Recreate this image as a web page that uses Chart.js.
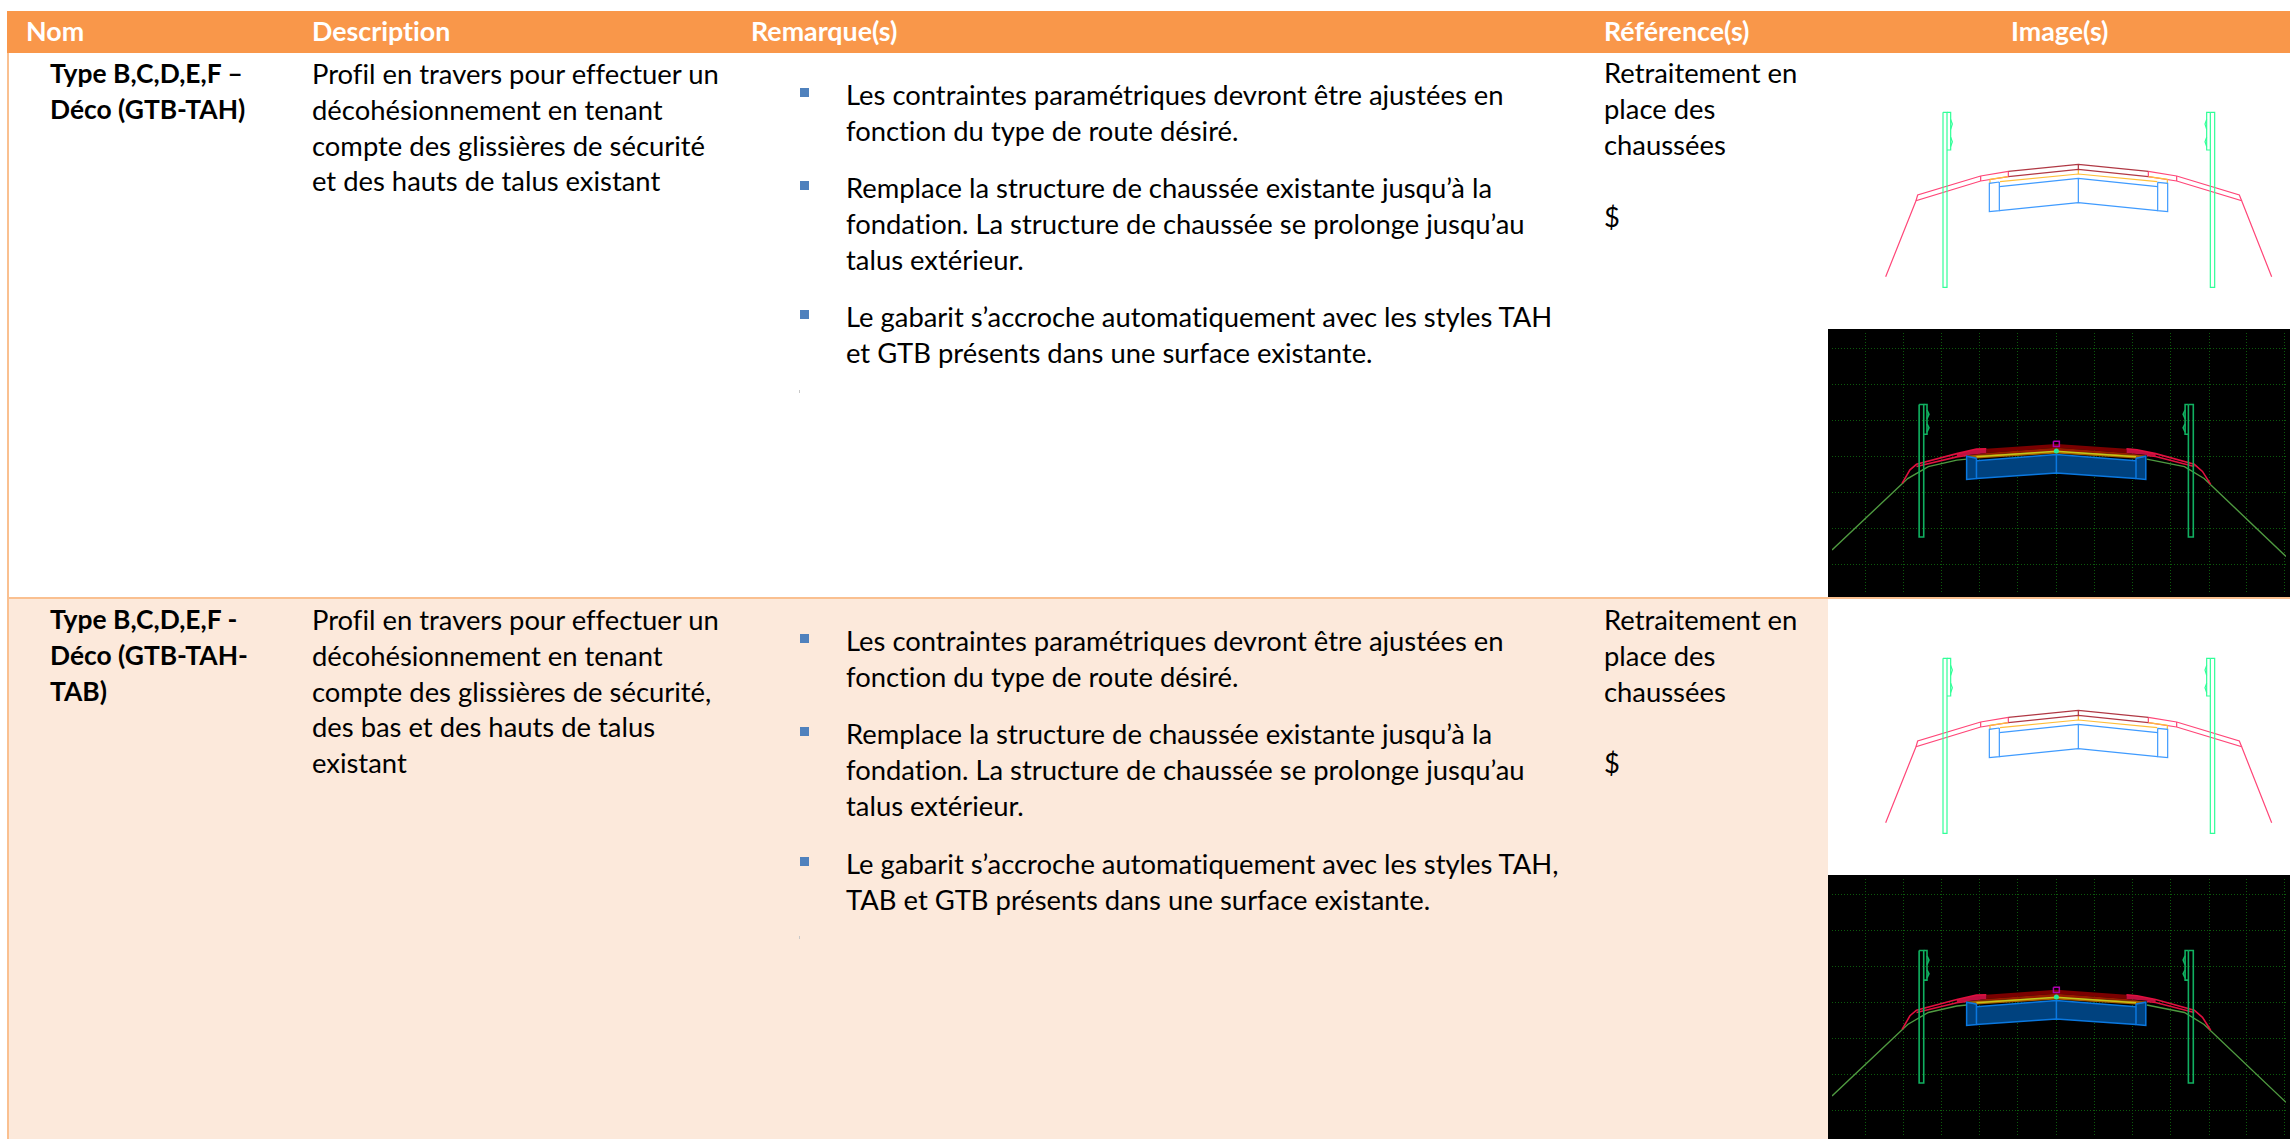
<!DOCTYPE html>
<html lang="fr">
<head>
<meta charset="utf-8">
<title>Gabarits</title>
<script src="https://cdn.jsdelivr.net/npm/chart.js@4"></script>
<style>
  html, body { margin: 0; padding: 0; background: #fff; }
  #page { position: relative; width: 2290px; height: 1139px; overflow: hidden; font-family: Lato, sans-serif; color: #000; font-variant-ligatures: none; }
  #head { position: absolute; left: 7px; top: 11px; width: 2283px; height: 42px; background: #F9974A; }
  #row1 { position: absolute; left: 7px; top: 53px; width: 2283px; height: 544px; border-left: 2px solid #FAC090; box-sizing: border-box; }
  #row2 { position: absolute; left: 7px; top: 599px; width: 1821px; height: 540px; background: #FCE9DB; border-left: 2px solid #FAC090; box-sizing: border-box; }
  #rule { position: absolute; left: 7px; top: 597px; width: 2283px; height: 2px; background: #FAC090; }
  .t { position: absolute; font-size: 27.4px; line-height: 35.8px; white-space: pre; }
  .h { color: #fff; font-weight: 700; font-size: 26.8px; }
  .b { font-weight: 700; font-size: 26.4px; }
  .bullet { position: absolute; width: 9px; height: 9px; background: #4F81BD; }
  .speck { position: absolute; width: 1px; height: 3px; background: #C8C8C8; }
  canvas { position: absolute; display: block; }
</style>
</head>
<body>
<div id="page">
  <div id="head"></div>
  <div id="row1"></div>
  <div id="row2"></div>
  <div id="rule"></div>
  <div class="speck" style="left:799px;top:390px"></div>
  <div class="speck" style="left:799px;top:936px"></div>
  <canvas id="img1" width="462" height="275" style="left:1828px;top:54px"></canvas>
  <canvas id="img2" width="462" height="268" style="left:1828px;top:329px"></canvas>
  <canvas id="img3" width="462" height="276" style="left:1828px;top:599px"></canvas>
  <canvas id="img4" width="462" height="264" style="left:1828px;top:875px"></canvas>
</div>
<script>
// ── Table text ──
const headers = [['Nom', 26], ['Description', 312], ['Remarque(s)', 751], ['Référence(s)', 1604], ['Image(s)', 2011]];
const nom1 = ['Type B,C,D,E,F –', 'Déco (GTB-TAH)'];
const nom2 = ['Type B,C,D,E,F -', 'Déco (GTB-TAH-', 'TAB)'];
const desc1 = ['Profil en travers pour effectuer un', 'décohésionnement en tenant', 'compte des glissières de sécurité', 'et des hauts de talus existant'];
const desc2 = ['Profil en travers pour effectuer un', 'décohésionnement en tenant', 'compte des glissières de sécurité,', 'des bas et des hauts de talus', 'existant'];
const rem = [
  ['Les contraintes paramétriques devront être ajustées en', 'fonction du type de route désiré.'],
  ['Remplace la structure de chaussée existante jusqu’à la', 'fondation. La structure de chaussée se prolonge jusqu’au', 'talus extérieur.']
];
const rem1Last = ['Le gabarit s’accroche automatiquement avec les styles TAH', 'et GTB présents dans une surface existante.'];
const rem2Last = ['Le gabarit s’accroche automatiquement avec les styles TAH,', 'TAB et GTB présents dans une surface existante.'];
const refText = ['Retraitement en', 'place des', 'chaussées'];

// ── Drawing 1 and 3: white profile, units are 1/3 px from the crown ──
const pinkLines = [
  [[-578,-337],[-487,-109],[-293,-50],[-210,-37]],
  [[-487,-109],[-482,-92],[-293,-35],[-210,-21]],
  [[210,-37],[295,-50],[490,-109],[580,-337]],
  [[210,-21],[295,-35],[483,-92],[490,-109]],
  [[-293,-35],[-293,-50]], [[-210,-21],[-210,-37]],
  [[210,-21],[210,-37]], [[295,-35],[295,-50]]
];
const redLines = [
  [[-210,-21],[0,0],[210,-21]],
  [[-210,-37],[0,-15],[210,-37]],
  [[0,0],[0,-15]]
];
const orangeLines = [
  [[-265,-57],[-265,-45],[-210,-37]],
  [[267,-57],[267,-45],[210,-37]],
  [[-235,-52],[0,-29],[237,-52]],
  [[0,-15],[0,-29]]
];
const blueLines = [
  [[-237,-53],[-267,-57],[-267,-142],[-237,-139],[-237,-53]],
  [[238,-54],[268,-57],[268,-142],[238,-139],[238,-54]],
  [[-237,-67],[0,-42],[238,-67]],
  [[-237,-139],[0,-115],[238,-139]],
  [[0,-42],[0,-115]]
];
const greenLines = [
  [[-406,156],[-394,156],[-394,-369],[-406,-369],[-406,156]],
  [[-394,156],[-383,156],[-383,43],[-394,43]],
  [[-383,135],[-378,121],[-383,105]],
  [[-383,81],[-378,68],[-383,53]],
  [[396,156],[409,156],[409,-369],[396,-369],[396,156]],
  [[396,156],[385,156],[385,43],[396,43]],
  [[385,135],[380,121],[385,105]],
  [[385,81],[380,68],[385,53]]
];

// ── Drawing 2 and 4: dark profile ──
const gridX = [-582,-468,-350,-234,-118,0,115,232,348,466,581,696];
const gridY = [295,183,72,-39,-151,-263,-374];
const groundLines = [
  [[-685,-328],[-454,-107],[-391,-70],[-304,-50],[-274,-47]],
  [[276,-47],[391,-70],[451,-107],[701,-348]]
];
const crimsonLines = [
  [[-471,-122],[-447,-80],[-427,-63],[-304,-30],[-244,-16],[-214,-15]],
  [[-427,-70],[-304,-40],[-274,-36]],
  [[214,-15],[246,-18],[303,-30],[421,-63],[446,-85],[471,-125]],
  [[276,-36],[303,-39],[421,-70]]
];
const crimsonLeft = [[-304,-30],[-244,-16],[-214,-15],[-214,-28],[-274,-35],[-304,-38]];
const crimsonRight = [[214,-15],[246,-18],[303,-30],[303,-38],[276,-34],[214,-28]];
const darkRedShape = [[-214,-15],[0,0],[214,-15],[214,-28],[0,-12],[-214,-28]];
const brownShape = [[-214,-28],[0,-12],[214,-28],[273,-36],[0,-22],[-274,-36]];
const ochreShape = [[-274,-36],[0,-22],[273,-36],[273,-40],[243,-45],[0,-30],[-244,-45],[-274,-40]];
const yellowLine = [[-244,-40],[0,-23],[243,-40]];
const blueShape = [[-274,-38],[-244,-44],[-244,-52],[0,-33],[243,-52],[243,-44],[273,-38],[273,-110],[243,-107],[0,-90],[-244,-107],[-274,-110]];
const darkBlueLines = [
  [[-244,-44],[-274,-38],[-274,-110],[-244,-107],[-244,-44]],
  [[243,-44],[273,-38],[273,-110],[243,-107],[243,-44]],
  [[-244,-52],[0,-33],[243,-52]],
  [[-244,-107],[0,-90],[243,-107]],
  [[0,-33],[0,-90]]
];
const darkGreenLines = [
  [[-419,122],[-405,122],[-405,-288],[-419,-288],[-419,122]],
  [[-405,122],[-395,122],[-395,30],[-405,30]],
  [[-395,105],[-389,92],[-395,78]],
  [[-395,62],[-389,50],[-395,37]],
  [[403,122],[418,122],[418,-288],[403,-288],[403,122]],
  [[403,122],[393,122],[393,30],[403,30]],
  [[393,105],[387,92],[393,78]],
  [[393,62],[387,50],[393,37]]
];
const markerSquare = [[-9,8],[9,8],[9,-8],[-9,-8],[-9,8]];
const markerDot = [[0,-22]];

// ── Helpers ──
const page = document.getElementById('page');
function addText(x, y, lines, cls) {
  const el = document.createElement('div');
  el.className = 't ' + (cls || '');
  el.style.left = x + 'px';
  el.style.top = (y - 17.9) + 'px';
  el.textContent = lines.join('\n');
  page.appendChild(el);
}
function addBullet(x, y) {
  const el = document.createElement('div');
  el.className = 'bullet';
  el.style.left = x + 'px';
  el.style.top = (y - 4) + 'px';
  page.appendChild(el);
}
const xy = pts => pts.map(p => ({x: p[0], y: p[1]}));
const stroke = (pts, color, width) => ({data: xy(pts), showLine: true, borderColor: color, borderWidth: width || 1, pointRadius: 0, fill: false});
const shape = (pts, color) => ({data: xy(pts), showLine: true, borderWidth: 0, pointRadius: 0, fill: 'shape', backgroundColor: color});

function makeDrawing(id, datasets, xr, yr, withGrid) {
  datasets.forEach((d, i) => { d.order = -i; });
  const axis = (r, ticks) => ({
    type: 'linear', min: r[0], max: r[1],
    display: !!withGrid,
    afterBuildTicks: s => { if (ticks) s.ticks = ticks.map(v => ({value: v})); },
    ticks: {display: false},
    border: {display: false, dash: [1, 2]},
    grid: {color: '#0C5A0C', lineWidth: 1, drawTicks: false}
  });
  return new Chart(document.getElementById(id), {
    type: 'scatter',
    data: {datasets},
    options: {
      responsive: false, animation: false,
      layout: {padding: 0},
      plugins: {legend: {display: false}, tooltip: {enabled: false}},
      scales: {x: axis(xr, withGrid && gridX), y: axis(yr, withGrid && gridY)}
    }
  });
}
const whiteSets = () => [
  ...pinkLines.map(l => stroke(l, '#FF4678', 1.2)),
  ...orangeLines.map(l => stroke(l, '#FFBE38', 1.2)),
  ...redLines.map(l => stroke(l, '#B03844', 1.2)),
  ...blueLines.map(l => stroke(l, '#3F9BFF', 1.2)),
  ...greenLines.map(l => stroke(l, '#30FF98', 1.2))
];
const darkSets = () => [
  ...groundLines.map(l => stroke(l, '#4F9A40', 1.4)),
  shape(blueShape, '#00427F'),
  shape(darkRedShape, '#7A0000'),
  shape(brownShape, '#981C00'),
  shape(ochreShape, '#A85E00'),
  stroke(yellowLine, '#C4C41A', 1.5),
  shape(crimsonLeft, '#C01040'),
  shape(crimsonRight, '#C01040'),
  ...crimsonLines.map(l => stroke(l, '#E0103F', 1.6)),
  ...darkBlueLines.map(l => stroke(l, '#0A78E0', 1.5)),
  ...darkGreenLines.map(l => stroke(l, '#10B060', 1.6)),
  stroke(markerSquare, '#B000B0', 1.5),
  {data: xy(markerDot), pointRadius: 2.5, pointBackgroundColor: '#20E8A0', pointBorderWidth: 0}
];

// ── Init ──
headers.forEach(h => addText(h[1], 32, [h[0]], 'h'));
addText(50, 74, nom1, 'b');
addText(312, 74, desc1);
addText(1604, 73, refText);
addText(1604, 217, ['$']);
addText(50, 620, nom2, 'b');
addText(312, 620, desc2);
addText(1604, 620, refText);
addText(1604, 763, ['$']);
[[95, rem[0]], [188, rem[1]], [317, rem1Last], [641, rem[0]], [734, rem[1]], [864, rem2Last]].forEach(r => {
  addText(846, r[0], r[1]);
  addBullet(800, r[0] - 3);
});

makeDrawing('img1', whiteSets(), [-751, 635], [-494, 331]);
makeDrawing('img2', darkSets(), [-685, 701], [-461, 343], true);
makeDrawing('img3', whiteSets(), [-751, 635], [-494, 334]);
makeDrawing('img4', darkSets(), [-685, 701], [-449, 343], true);
// black behind the two dark drawings
['img2', 'img4'].forEach(id => { document.getElementById(id).style.background = '#000'; });
</script>
</body>
</html>
